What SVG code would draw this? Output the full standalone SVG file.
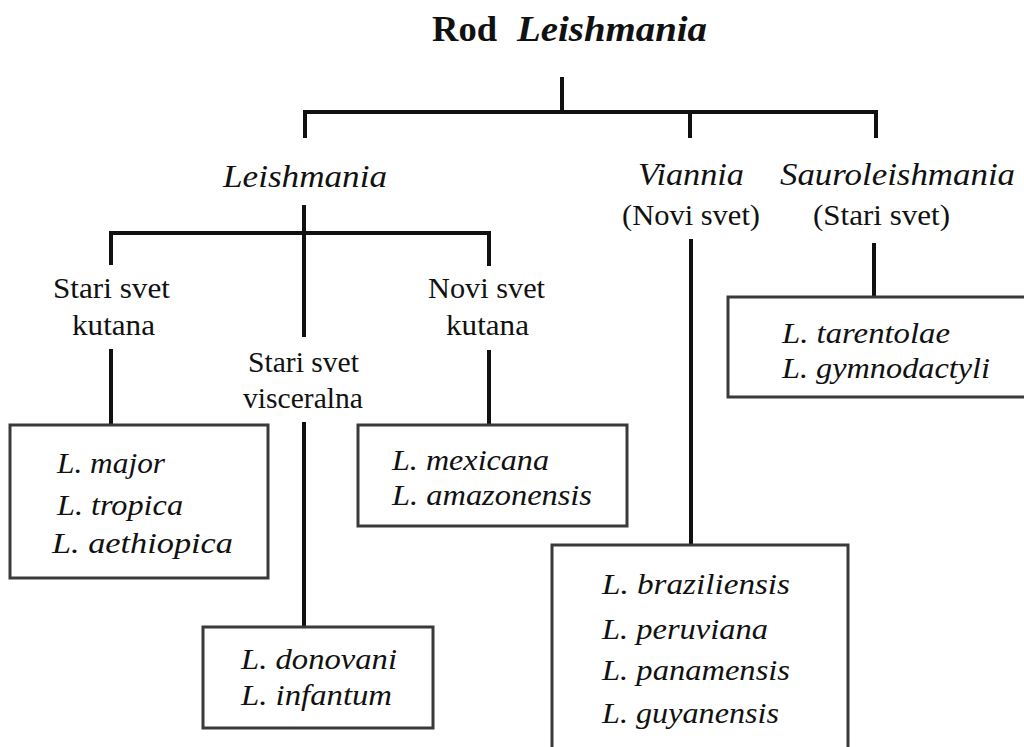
<svg xmlns="http://www.w3.org/2000/svg" width="1024" height="747" viewBox="0 0 1024 747">
<style>
.t{font-size:36px;font-weight:bold}
.sg{font-size:32px;font-style:italic}
.lb{font-size:29px}
.sp{font-size:30px;font-style:italic}
.box{fill:#fff;stroke:#3a3a3a;stroke-width:3}
.ln{fill:none;stroke:#111;stroke-width:4;stroke-linejoin:miter;stroke-linecap:butt}
</style>
<rect width="1024" height="747" fill="#fff"/>
<g id="connectors">
<path class="ln" d="M562 77V112"/>
<path class="ln" d="M305 138V112H876V138"/>
<path class="ln" d="M690 112V138"/>
<path class="ln" d="M304 205V337"/>
<path class="ln" d="M111 265V233H489V266"/>
<path class="ln" d="M111 349V425"/>
<path class="ln" d="M489 350V425"/>
<path class="ln" d="M304 422V627"/>
<path class="ln" d="M691 239V545"/>
<path class="ln" d="M874 243V297"/>
</g>
<g font-family="Liberation Serif, Times New Roman, serif" fill="#111">
<g id="title">
<text class="t" x="432" y="41" textLength="65" lengthAdjust="spacingAndGlyphs">Rod</text>
<text class="t" x="517" y="41" font-style="italic" textLength="190" lengthAdjust="spacingAndGlyphs">Leishmania</text>
</g>
<g id="subgenus-leishmania">
<text class="sg" x="223" y="187" textLength="164" lengthAdjust="spacingAndGlyphs">Leishmania</text>
</g>
<g id="subgenus-viannia">
<text class="sg" x="638" y="185" textLength="106" lengthAdjust="spacingAndGlyphs">Viannia</text>
<text class="lb" x="622" y="225" textLength="138" lengthAdjust="spacingAndGlyphs">(Novi svet)</text>
</g>
<g id="subgenus-sauroleishmania">
<text class="sg" x="780" y="185" textLength="235" lengthAdjust="spacingAndGlyphs">Sauroleishmania</text>
<text class="lb" x="813" y="225" textLength="137" lengthAdjust="spacingAndGlyphs">(Stari svet)</text>
</g>
<g id="stari-svet-kutana">
<text class="lb" x="53" y="298" textLength="117" lengthAdjust="spacingAndGlyphs">Stari svet</text>
<text class="lb" x="72" y="335" textLength="83" lengthAdjust="spacingAndGlyphs">kutana</text>
</g>
<g id="stari-svet-visceralna">
<text class="lb" x="248" y="372" textLength="111" lengthAdjust="spacingAndGlyphs">Stari svet</text>
<text class="lb" x="243" y="408" textLength="120" lengthAdjust="spacingAndGlyphs">visceralna</text>
</g>
<g id="novi-svet-kutana">
<text class="lb" x="428" y="298" textLength="117" lengthAdjust="spacingAndGlyphs">Novi svet</text>
<text class="lb" x="446" y="335" textLength="83" lengthAdjust="spacingAndGlyphs">kutana</text>
</g>
<g id="box-stari-kutana">
<rect class="box" x="10" y="425" width="258" height="153"/>
<text class="sp" x="57" y="473" textLength="108" lengthAdjust="spacingAndGlyphs">L. major</text>
<text class="sp" x="57" y="515" textLength="126" lengthAdjust="spacingAndGlyphs">L. tropica</text>
<text class="sp" x="52" y="553" textLength="181" lengthAdjust="spacingAndGlyphs">L. aethiopica</text>
</g>
<g id="box-novi-kutana">
<rect class="box" x="358" y="425" width="269" height="101"/>
<text class="sp" x="392" y="470" textLength="157" lengthAdjust="spacingAndGlyphs">L. mexicana</text>
<text class="sp" x="392" y="505" textLength="200" lengthAdjust="spacingAndGlyphs">L. amazonensis</text>
</g>
<g id="box-visceralna">
<rect class="box" x="203" y="627" width="230" height="101"/>
<text class="sp" x="241" y="669" textLength="156" lengthAdjust="spacingAndGlyphs">L. donovani</text>
<text class="sp" x="241" y="705" textLength="151" lengthAdjust="spacingAndGlyphs">L. infantum</text>
</g>
<g id="box-sauroleishmania">
<rect class="box" x="728" y="297" width="300" height="100"/>
<text class="sp" x="782" y="343" textLength="168" lengthAdjust="spacingAndGlyphs">L. tarentolae</text>
<text class="sp" x="782" y="378" textLength="208" lengthAdjust="spacingAndGlyphs">L. gymnodactyli</text>
</g>
<g id="box-viannia">
<rect class="box" x="552" y="545" width="296" height="210"/>
<text class="sp" x="602" y="594" textLength="188" lengthAdjust="spacingAndGlyphs">L. braziliensis</text>
<text class="sp" x="602" y="639" textLength="166" lengthAdjust="spacingAndGlyphs">L. peruviana</text>
<text class="sp" x="602" y="680" textLength="188" lengthAdjust="spacingAndGlyphs">L. panamensis</text>
<text class="sp" x="602" y="723" textLength="177" lengthAdjust="spacingAndGlyphs">L. guyanensis</text>
</g>
</g>
</svg>
